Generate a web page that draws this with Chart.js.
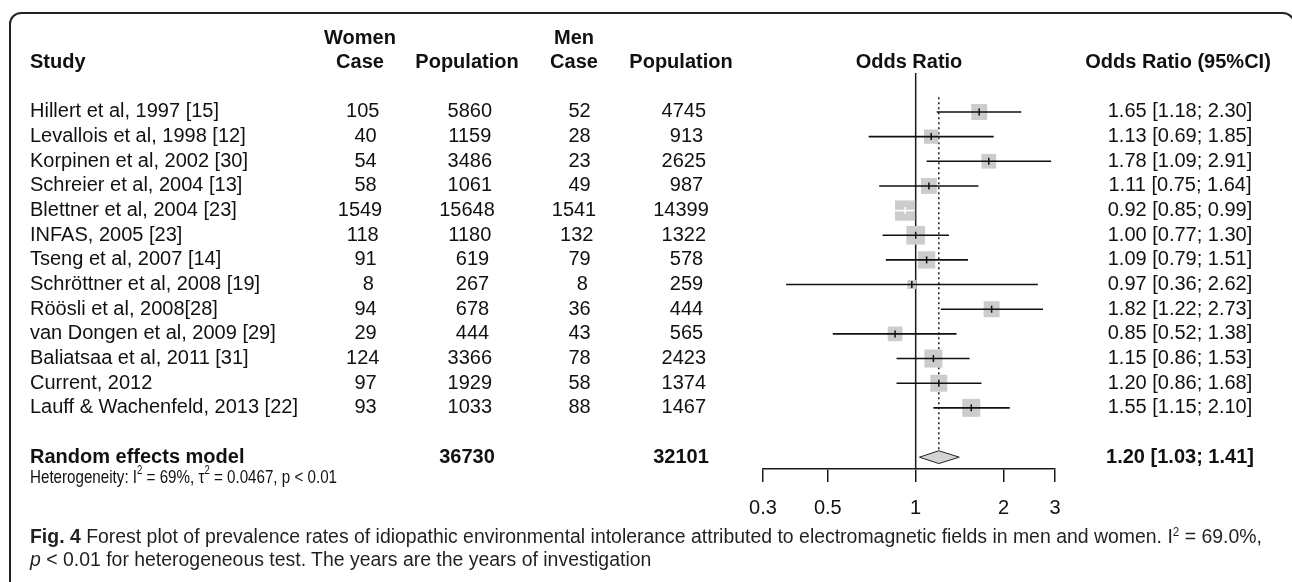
<!DOCTYPE html>
<html>
<head>
<meta charset="utf-8">
<script src="https://cdn.jsdelivr.net/npm/chart.js@4.4.1/dist/chart.umd.min.js"></script>
<style>
    html, body { margin: 0; padding: 0; background: #fff; }
    #wrap { position: relative; width: 1292px; height: 582px; overflow: hidden; }
    #frame {
        position: absolute; left: 9px; top: 12px; width: 1286px; height: 700px;
        border: 2px solid #222; border-radius: 12px; box-sizing: border-box;
    }
    #chartBox { position: absolute; left: 0; top: 0; width: 1292px; height: 582px; }
    .caption {
        position: absolute; left: 30px; font-family: 'Liberation Sans', Arial, sans-serif;
        font-size: 20px; line-height: 23px; color: #231f20; white-space: nowrap;
        transform-origin: left center;
    }
    .caption sup { font-size: 12px; position: relative; top: -7px; vertical-align: baseline; }
</style>
</head>
<body>
<div id="wrap">
    <div id="frame"></div>
    <div id="chartBox"><canvas id="forestChart"></canvas></div>
    <div class="caption" id="cap1" style="top:525px;"><b>Fig. 4</b> Forest plot of prevalence rates of idiopathic environmental intolerance attributed to electromagnetic fields in men and women. I<sup>2</sup> = 69.0%,</div>
    <div class="caption" id="cap2" style="top:548px;"><i>p</i> &lt; 0.01 for heterogeneous test. The years are the years of investigation</div>
</div>
<script>
const studies = [
    'Hillert et al, 1997 [15]',
    'Levallois et al, 1998 [12]',
    'Korpinen et al, 2002 [30]',
    'Schreier et al, 2004 [13]',
    'Blettner et al, 2004 [23]',
    'INFAS, 2005 [23]',
    'Tseng et al, 2007 [14]',
    'Schröttner et al, 2008 [19]',
    'Röösli et al, 2008[28]',
    'van Dongen et al, 2009 [29]',
    'Baliatsaa et al, 2011 [31]',
    'Current, 2012',
    'Lauff & Wachenfeld, 2013 [22]',
];
const womenCase = [105, 40, 54, 58, 1549, 118, 91, 8, 94, 29, 124, 97, 93];
const womenPop = [5860, 1159, 3486, 1061, 15648, 1180, 619, 267, 678, 444, 3366, 1929, 1033];
const menCase = [52, 28, 23, 49, 1541, 132, 79, 8, 36, 43, 78, 58, 88];
const menPop = [4745, 913, 2625, 987, 14399, 1322, 578, 259, 444, 565, 2423, 1374, 1467];
const orEst = [1.65, 1.13, 1.78, 1.11, 0.92, 1.00, 1.09, 0.97, 1.82, 0.85, 1.15, 1.20, 1.55];
const orLow = [1.18, 0.69, 1.09, 0.75, 0.85, 0.77, 0.79, 0.36, 1.22, 0.52, 0.86, 0.86, 1.15];
const orHigh = [2.30, 1.85, 2.91, 1.64, 0.99, 1.30, 1.51, 2.62, 2.73, 1.38, 1.53, 1.68, 2.10];
// random effects weights (%)
const weights = [7.3, 5.9, 6.2, 7.3, 11.8, 10.0, 8.6, 2.3, 7.3, 6.2, 9.3, 8.3, 9.3];
const pooledOr = [1.20, 1.03, 1.41];
const totalPop = [36730, 32101];
const heterogeneity = ['69%', '0.0467', 'p < 0.01'];
const xTicks = [0.3, 0.5, 1, 2, 3];

const FONT = "'Liberation Sans', Arial, Helvetica, sans-serif";
const summaryRow = studies.length + 1;
const boxScale = 34.8;
const boxSide = (i) => Math.sqrt(weights[i] * boxScale);
const fmt = (v) => v.toFixed(2);
const ciText = (e, l, h) => `${fmt(e)} [${fmt(l)}; ${fmt(h)}]`;

const cols = { study: 30, womenCase: 360, womenPop: 467, menCase: 574, menPop: 681, ci: 1180, ciHead: 1178 };

function padCol(values) {
    const width = Math.max(...values.map((v) => String(v).length));
    return values.map((v) => String(v).padStart(width, ' '));
}

function ciInsideBox(chart, i) {
    const xs = chart.scales.x;
    if (!xs) {
        return false;
    }
    const c = xs.getPixelForValue(orEst[i]);
    const half = boxSide(i) / 2 + 1;
    return xs.getPixelForValue(orLow[i]) >= c - half && xs.getPixelForValue(orHigh[i]) <= c + half;
}

const refLines = {
    id: 'refLines',
    beforeDatasetsDraw(chart) {
        const { ctx, chartArea } = chart;
        const xs = chart.scales.x;
        const ys = chart.scales.y;
        ctx.save();
        ctx.strokeStyle = '#1a1a1a';
        ctx.lineWidth = 1.5;
        const x1 = xs.getPixelForValue(1);
        ctx.beginPath();
        ctx.moveTo(x1, chartArea.top);
        ctx.lineTo(x1, chartArea.bottom);
        ctx.stroke();

        const xp = xs.getPixelForValue(pooledOr[0]);
        ctx.setLineDash([2, 3]);
        ctx.beginPath();
        ctx.moveTo(xp, ys.getPixelForValue(-0.6));
        ctx.lineTo(xp, ys.getPixelForValue(summaryRow - 0.27));
        ctx.stroke();
        ctx.restore();
    },
};

const forestTable = {
    id: 'forestTable',
    afterDraw(chart) {
        const { ctx, chartArea } = chart;
        const ys = chart.scales.y;
        const rowY = (i) => ys.getPixelForValue(i);
        const regular = `20px ${FONT}`;
        const bold = `bold 20px ${FONT}`;

        ctx.save();
        ctx.fillStyle = '#111';
        ctx.textBaseline = 'middle';

        const put = (text, x, y, align, font) => {
            ctx.font = font;
            ctx.textAlign = align;
            ctx.fillText(text, x, y);
        };

        // header
        put('Women', cols.womenCase, rowY(-3), 'center', bold);
        put('Men', cols.menCase, rowY(-3), 'center', bold);
        put('Study', cols.study, rowY(-2), 'left', bold);
        put('Case', cols.womenCase, rowY(-2), 'center', bold);
        put('Population', cols.womenPop, rowY(-2), 'center', bold);
        put('Case', cols.menCase, rowY(-2), 'center', bold);
        put('Population', cols.menPop, rowY(-2), 'center', bold);
        put('Odds Ratio', (chartArea.left + chartArea.right) / 2, rowY(-2), 'center', bold);
        put('Odds Ratio (95%CI)', cols.ciHead, rowY(-2), 'center', bold);

        // studies
        const wc = padCol(womenCase);
        const wp = padCol(womenPop);
        const mc = padCol(menCase);
        const mp = padCol(menPop);
        studies.forEach((name, i) => {
            const y = rowY(i);
            put(name, cols.study, y, 'left', regular);
            put(wc[i], cols.womenCase, y, 'center', regular);
            put(wp[i], cols.womenPop, y, 'center', regular);
            put(mc[i], cols.menCase, y, 'center', regular);
            put(mp[i], cols.menPop, y, 'center', regular);
            put(ciText(orEst[i], orLow[i], orHigh[i]), cols.ci, y, 'center', regular);
        });

        // summary
        const ySum = rowY(summaryRow);
        put('Random effects model', cols.study, ySum, 'left', bold);
        put(String(totalPop[0]), cols.womenPop, ySum, 'center', bold);
        put(String(totalPop[1]), cols.menPop, ySum, 'center', bold);
        put(ciText(pooledOr[0], pooledOr[1], pooledOr[2]), cols.ci, ySum, 'center', bold);

        // heterogeneity line (narrow, with superscripts)
        const parts = [
            ['Heterogeneity: I', false],
            ['2', true],
            [` = ${heterogeneity[0]}, \u03c4`, false],
            ['2', true],
            [` = ${heterogeneity[1]}, ${heterogeneity[2]}`, false],
        ];
        const normalFont = `19px ${FONT}`;
        const supFont = `12px ${FONT}`;
        let total = 0;
        parts.forEach(([t, sup]) => {
            ctx.font = sup ? supFont : normalFont;
            total += ctx.measureText(t).width;
        });
        const squeeze = 307 / total;
        const yHet = rowY(summaryRow + 0.85);
        ctx.translate(cols.study, yHet);
        ctx.scale(squeeze, 1);
        ctx.textAlign = 'left';
        let cx = 0;
        parts.forEach(([t, sup]) => {
            ctx.font = sup ? supFont : normalFont;
            ctx.fillText(t, cx, sup ? -7 : 0);
            cx += ctx.measureText(t).width;
        });
        ctx.restore();
    },
};

const ciDatasets = studies.map((_, i) => ({
    type: 'line',
    data: [{ x: orLow[i], y: i }, { x: orHigh[i], y: i }],
    borderColor: (ctx) => (ciInsideBox(ctx.chart, i) ? '#ffffff' : '#111111'),
    borderWidth: 1.6,
    pointRadius: 0,
    fill: false,
}));

const tickDataset = {
    type: 'scatter',
    data: orEst.map((v, i) => ({ x: v, y: i })),
    pointStyle: 'line',
    rotation: 90,
    pointRadius: 3.5,
    pointBorderWidth: 1.5,
    pointBorderColor: (ctx) => (ciInsideBox(ctx.chart, ctx.dataIndex) ? '#ffffff' : '#111111'),
};

const boxDataset = {
    type: 'scatter',
    data: orEst.map((v, i) => ({ x: v, y: i })),
    pointStyle: 'rect',
    pointRadius: (ctx) => boxSide(ctx.dataIndex) / Math.SQRT2,
    pointBackgroundColor: '#cccccc',
    pointBorderWidth: 0,
};

const diamondDataset = {
    type: 'line',
    data: [
        { x: pooledOr[1], y: summaryRow },
        { x: pooledOr[0], y: summaryRow - 0.26 },
        { x: pooledOr[2], y: summaryRow },
        { x: pooledOr[0], y: summaryRow + 0.26 },
        { x: pooledOr[1], y: summaryRow },
    ],
    borderColor: '#222',
    borderWidth: 1,
    backgroundColor: '#d3d3d3',
    fill: 'shape',
    pointRadius: 0,
    tension: 0,
};

new Chart(document.getElementById('forestChart'), {
    type: 'scatter',
    data: {
        datasets: [tickDataset, ...ciDatasets, boxDataset, diamondDataset],
    },
    options: {
        responsive: true,
        maintainAspectRatio: false,
        animation: false,
        events: [],
        layout: { padding: { left: 763, right: 237, top: 73, bottom: 0 } },
        plugins: {
            legend: { display: false },
            tooltip: { enabled: false },
        },
        scales: {
            x: {
                type: 'logarithmic',
                min: 0.3,
                max: 3,
                position: 'bottom',
                afterBuildTicks: (scale) => {
                    scale.ticks = xTicks.map((v) => ({ value: v }));
                },
                afterFit: (scale) => {
                    scale.height = 113;
                },
                grid: { drawOnChartArea: false, drawTicks: true, tickLength: 13, color: '#1a1a1a', lineWidth: 1.5 },
                border: { display: true, color: '#1a1a1a', width: 1.5 },
                ticks: {
                    color: '#111',
                    font: { family: FONT, size: 20 },
                    padding: 14,
                    maxRotation: 0,
                    autoSkip: false,
                    callback: (v) => String(v),
                },
            },
            y: {
                type: 'linear',
                min: -1.58,
                max: 14.48,
                reverse: true,
                display: false,
            },
        },
    },
    plugins: [refLines, forestTable],
});

// caption uses a narrow face in the original; squeeze to the same line width
const cap1 = document.getElementById('cap1');
const cap2 = document.getElementById('cap2');
const k = 1232 / cap1.scrollWidth;
cap1.style.transform = `scaleX(${k})`;
cap2.style.transform = `scaleX(${k})`;
</script>
</body>
</html>
